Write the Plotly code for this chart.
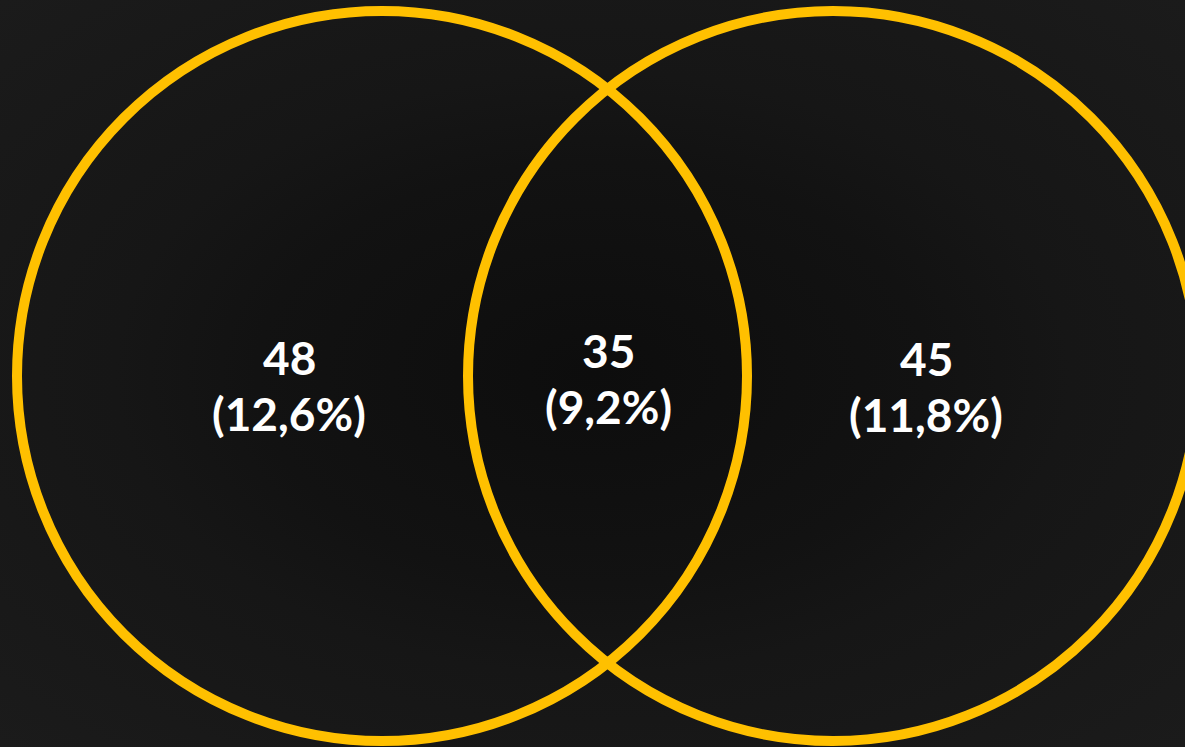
import base64
import plotly.graph_objects as go

# ---- data ----
set_labels = ["A", "B"]
only_a = 48
only_b = 45
both = 35
pct_only_a = "12,6%"
pct_only_b = "11,8%"
pct_both = "9,2%"

counts = [only_a, both, only_b]
pcts = [pct_only_a, pct_both, pct_only_b]

# ---- layout constants (pixel-like coordinate system) ----
W, H = 1185, 747
circle_centers = [(382, 376), (833, 376)]
circle_radius = 365
label_x = [289, 608, 926]
label_y_num = [357, 350, 358]
label_y_pct = [413, 406, 414]
gold = "#FFC000"
font_family = "Lato, 'Open Sans', sans-serif"

# radial gradient background as svg
svg = f'''<svg xmlns="http://www.w3.org/2000/svg" width="{W}" height="{H}">
<defs><radialGradient id="g" cx="0.5" cy="0.5" r="0.7071">
<stop offset="0" stop-color="#0d0d0d"/>
<stop offset="0.40" stop-color="#121212"/>
<stop offset="0.57" stop-color="#161616"/>
<stop offset="0.66" stop-color="#171717"/>
<stop offset="1" stop-color="#1b1b1b"/>
</radialGradient></defs>
<rect width="{W}" height="{H}" fill="url(#g)"/></svg>'''
bg_uri = "data:image/svg+xml;base64," + base64.b64encode(svg.encode()).decode()

fig = go.Figure()
fig.add_trace(go.Scatter(x=[0, W], y=[0, H], mode="markers",
                         marker=dict(opacity=0), hoverinfo="skip", showlegend=False))

for (cx, cy) in circle_centers:
    fig.add_shape(type="circle", xref="x", yref="y",
                  x0=cx - circle_radius, x1=cx + circle_radius,
                  y0=cy - circle_radius, y1=cy + circle_radius,
                  line=dict(color=gold, width=10), fillcolor="rgba(0,0,0,0)")

for i in range(3):
    fig.add_annotation(x=label_x[i], y=label_y_num[i], xref="x", yref="y",
                       text=f"<b>{counts[i]}</b>", showarrow=False,
                       font=dict(family=font_family, size=46, color="white"))
    fig.add_annotation(x=label_x[i], y=label_y_pct[i], xref="x", yref="y",
                       text=f"<b>({pcts[i]})</b>", showarrow=False,
                       font=dict(family=font_family, size=46, color="white"))

fig.update_layout(
    width=W, height=H,
    margin=dict(l=0, r=0, t=0, b=0),
    paper_bgcolor="#161616", plot_bgcolor="rgba(0,0,0,0)",
    images=[dict(source=bg_uri, xref="paper", yref="paper", x=0, y=1,
                 sizex=1, sizey=1, sizing="stretch", layer="below",
                 xanchor="left", yanchor="top")],
    xaxis=dict(range=[0, W], visible=False, fixedrange=True),
    yaxis=dict(range=[H, 0], visible=False, fixedrange=True),
    showlegend=False,
)

fig.write_html("out.html", config={"displayModeBar": False})
